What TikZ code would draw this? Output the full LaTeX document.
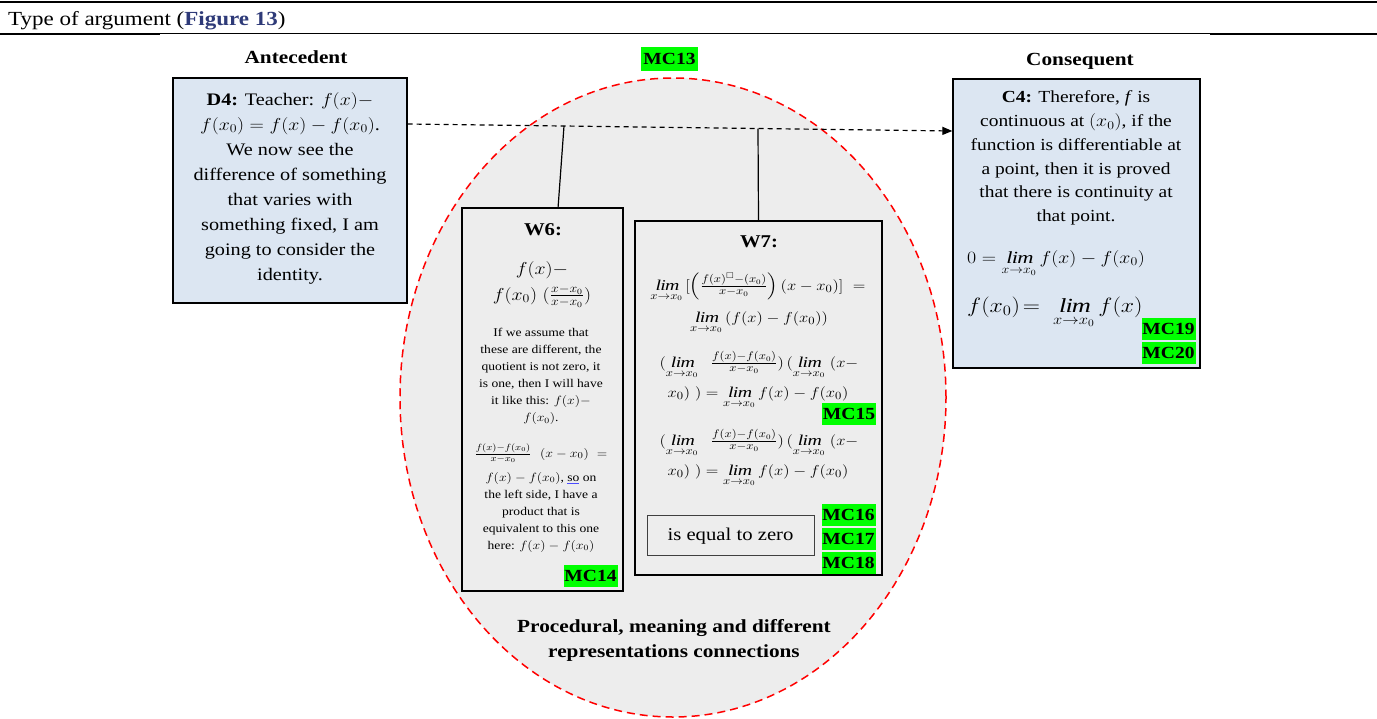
\documentclass[tikz,border=0pt]{standalone}
\usepackage{amsmath,amssymb}
\usepackage{fontspec}
\setmainfont{Liberation Serif}[FakeStretch=1.15]
\usepackage{graphicx}
\usetikzlibrary{shapes.geometric,arrows.meta,calc}
\definecolor{boxblue}{HTML}{DCE6F2}
\definecolor{ellgray}{HTML}{EDEDED}
\definecolor{mcgreen}{HTML}{00FF00}
\definecolor{figblue}{HTML}{2E3A78}
\newcommand{\fsz}[2]{\fontsize{#1}{#2}\selectfont}
\newcommand{\mm}[1]{\scalebox{1.15}[1]{$#1$}}
\newcommand{\limx}{\mathop{\mathit{lim}}\limits_{x\to x_0}}
\begin{document}
\begin{tikzpicture}[x=1pt,y=-1pt,
  txt/.style={inner sep=0pt, align=center},
  lbl/.style={inner sep=0pt, anchor=base, font=\bfseries\fsz{18.5}{18.5}},
  mc/.style={fill=mcgreen, inner sep=0pt, minimum height=22pt, minimum width=54pt, font=\bfseries\fsz{17}{17}},
  bbox/.style={draw=black, line width=1.3pt, inner sep=0pt},
  eqn/.style={inner sep=0pt, anchor=base, font=\fsz{15}{15}},
  link/.style={draw=black, line width=1.2pt}
]
\path[use as bounding box] (0,0) rectangle (1377,718);
% rules
\draw[line width=2.5pt] (0,2) -- (1377,2);
\draw[line width=0.9pt] (0,33) -- (1377,33);
\draw[line width=2pt] (0,33.5) -- (160,33.5);
\draw[line width=2pt] (1210,33.5) -- (1377,33.5);
\node[anchor=base west, inner sep=0pt, font=\fsz{20}{20}] (title) at (8,25) {Type of argument (\textcolor{figblue}{\textbf{Figure 13}})};
% ellipse
\node[ellipse, draw=red, dash pattern=on 8pt off 5pt, line width=1.5pt, fill=ellgray, minimum width=546pt, minimum height=639pt, inner sep=0pt] (ell) at (673,397.5) {};
% headings
\node[lbl] (ante) at (296,63) {Antecedent};
\node[lbl] (cons) at (1080,65) {Consequent};
\node[mc, minimum width=57pt, minimum height=24pt] (mc13) at (669.5,59) {MC13};
% boxes
\node[bbox, fill=boxblue, minimum width=234pt, minimum height=225pt] (d4) at (290,190.5) {};
\node[bbox, fill=boxblue, minimum width=247pt, minimum height=289pt] (c4) at (1076.5,223.5) {};
% arrow and links
\coordinate (aL) at (407,124);
\coordinate (aR) at (953,131);
\draw[line width=1.2pt, dash pattern=on 5pt off 4pt, -{Triangle[length=10pt,width=8pt]}] (d4.east |- aL) -- (c4.west |- aR);
\coordinate (j6) at (564,126);
\coordinate (j7) at (758,128.5);
\node[bbox, fill=ellgray, minimum width=161pt, minimum height=383pt] (w6) at (542.5,399.5) {};
\node[bbox, fill=ellgray, minimum width=247pt, minimum height=354pt] (w7) at (758.5,398) {};
\draw[link] (j6) -- ($(w6.north west)!0.596!(w6.north east)$);
\draw[link] (j7) -- (w7.north);
% D4 text
\node[txt, font=\fsz{17.6}{25}] (d4t) at (290,188) {\textbf{D4:} Teacher: \mm{f(x)-}\\ \mm{f(x_0)=f(x)-f(x_0)}.\\ We now see the\\ difference of something\\ that varies with\\ something fixed, I am\\ going to consider the\\ identity.};
% C4 text
\node[txt, font=\fsz{16.9}{23.8}] (c4t) at (1076,158) {\textbf{C4:} Therefore, \textit{f} is\\ continuous at \mm{(x_0)}, if the\\ function is differentiable at\\ a point, then it is proved\\ that there is continuity at\\ that point.};
\node[anchor=base west, inner sep=0pt, font=\fsz{17}{17}] (c4e1) at (967,263) {\mm{0=\limx f(x)-f(x_0)}};
\node[anchor=base west, inner sep=0pt, font=\fsz{20}{20}] (c4e2) at (967,312) {\mm{f(x_0)\!=\ \limx f(x)}};
\node[mc] (mc19) at (1168.5,328.5) {MC19};
\node[mc] (mc20) at (1168.5,353) {MC20};
% W6 text
\node[lbl, font=\bfseries\fsz{18}{18}] (w6h) at (543,235) {W6:};
\node[inner sep=0pt, anchor=base, font=\fsz{17}{17}] (w6m1) at (542,274) {\mm{f(x)-}};
\node[inner sep=0pt, anchor=base, font=\fsz{17}{17}] (w6m2) at (542,300) {\mm{f(x_0)\ (\tfrac{x-x_0}{x-x_0})}};
\node[txt, font=\fsz{11.8}{17}] (w6p1) at (541,376.5) {If we assume that\\ these are different, the\\ quotient is not zero, it\\ is one, then I will have\\ it like this: \mm{f(x)-}\\ \mm{f(x_0)}.};
\node[inner sep=0pt, anchor=base, font=\fsz{13}{13}] (w6f) at (541,457) {\mm{\tfrac{f(x)-f(x_0)}{x-x_0}\ \ (x-x_0)\ =}};
\node[txt, font=\fsz{11.8}{17}] (w6p2) at (541,512) {\mm{f(x)-f(x_0)}, {\color{blue!70}\underline{\color{black}so}} on\\ the left side, I have a\\ product that is\\ equivalent to this one\\ here: \mm{f(x)-f(x_0)}};
\node[mc] (mc14) at (590.5,576) {MC14};
% W7 text
\node[lbl, font=\bfseries\fsz{18}{18}] (w7h) at (759,247) {W7:};
\node[eqn] (w7a) at (758,290) {\mm{\limx\,[\Big(\tfrac{f(x)^{\scriptscriptstyle\square}-(x_0)}{x-x_0}\Big)\,(x-x_0)]\ =}};
\node[eqn] (w7b) at (759,322) {\mm{\limx\,(f(x)-f(x_0))}};
\node[eqn] (w7c) at (759,367) {\mm{(\limx\ \ \tfrac{f(x)-f(x_0)}{x-x_0})\,(\limx\ (x-}};
\node[eqn] (w7d) at (758,397) {\mm{x_0)\ )=\limx f(x)-f(x_0)}};
\node[mc] (mc15) at (849,414) {MC15};
\node[eqn] (w7e) at (759,445) {\mm{(\limx\ \ \tfrac{f(x)-f(x_0)}{x-x_0})\,(\limx\ (x-}};
\node[eqn] (w7f) at (758,475) {\mm{x_0)\ )=\limx f(x)-f(x_0)}};
\node[draw=black!75, line width=1pt, fill=ellgray, minimum width=167pt, minimum height=40pt, inner sep=0pt] (eqz) at (730.5,535) {};
\node[inner sep=0pt, anchor=base, font=\fsz{18}{18}] (eqzt) at (730.5,540) {is equal to zero};
\node[mc] (mc16) at (848.5,515) {MC16};
\node[mc] (mc17) at (848.5,538.5) {MC17};
\node[mc] (mc18) at (848.5,562.5) {MC18};
% ellipse label
\node[txt, font=\bfseries\fsz{18.5}{25}] (proc) at (674,640) {Procedural, meaning and different\\ representations connections};
\end{tikzpicture}
\end{document}
